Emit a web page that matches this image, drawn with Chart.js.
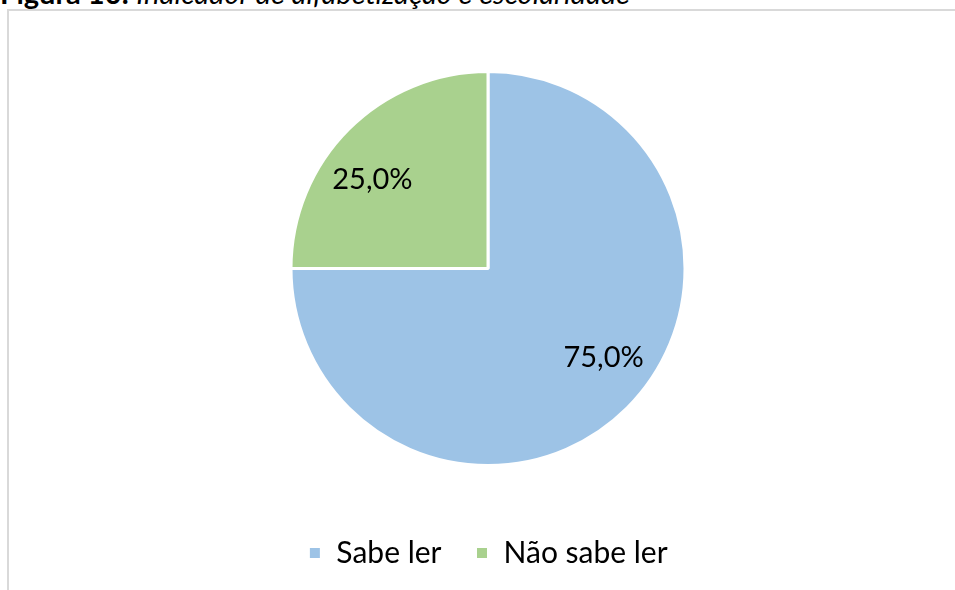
<!DOCTYPE html>
<html><head><meta charset="utf-8">
<script src="https://cdn.jsdelivr.net/npm/chart.js@4/dist/chart.umd.min.js"></script>
<style>
html,body{margin:0;padding:0;background:#fff;width:955px;height:590px;overflow:hidden;}
#title{position:absolute;left:0;top:-24px;font-family:Lato,"Open Sans",sans-serif;font-size:29px;line-height:34px;color:#000;white-space:nowrap;}
#frame{position:absolute;left:7px;top:9px;width:960px;height:700px;border:2px solid #d9d9d9;box-sizing:border-box;}
#wrap{position:absolute;left:0;top:0;width:955px;height:590px;}
</style></head><body>
<div id="title"><b>Figura 10:</b> <i>Indicador de alfabetização e escolaridade</i></div>
<div id="frame"></div>
<div id="wrap"><canvas id="c" width="955" height="590"></canvas></div>
<script>
const categories = ["Sabe ler", "Não sabe ler"];
const values = [75.0, 25.0];
const colors = ["#9DC3E6", "#A9D18E"];

const labelPlugin = {
  id: 'sliceLabels',
  afterDatasetsDraw(chart) {
    const ctx = chart.ctx;
    const meta = chart.getDatasetMeta(0);
    const total = values.reduce((a, b) => a + b, 0);
    ctx.save();
    ctx.font = '29px Lato, "Open Sans", sans-serif';
    ctx.fillStyle = '#000';
    ctx.textAlign = 'center';
    ctx.textBaseline = 'middle';
    meta.data.forEach((arc, i) => {
      const p = arc.getProps(['x','y','startAngle','endAngle','outerRadius'], true);
      const mid = (p.startAngle + p.endAngle) / 2 - 0.13;
      const r = p.outerRadius * 0.74;
      const txt = (values[i] / total * 100).toFixed(1).replace('.', ',') + '%';
      ctx.fillText(txt, p.x + Math.cos(mid) * r, p.y + Math.sin(mid) * r);
    });
    ctx.restore();
  }
};

new Chart(document.getElementById('c'), {
  type: 'pie',
  data: {
    labels: categories,
    datasets: [{ data: values, backgroundColor: colors, borderColor: '#ffffff', borderWidth: 3 }]
  },
  options: {
    responsive: false,
    animation: false,
    layout: { padding: { left: 100, right: 79, top: 70, bottom: 12 } },
    plugins: {
      tooltip: { enabled: false },
      legend: {
        position: 'bottom',
        title: { display: true, text: ' ', font: { size: 1, lineHeight: 1 }, padding: { top: 36, bottom: 0 } },
        labels: {
          boxWidth: 13, boxHeight: 13, padding: 34,
          color: '#000',
          font: { family: 'Lato, "Open Sans", sans-serif', size: 30 }
        }
      }
    }
  },
  plugins: [labelPlugin]
});
</script>
</body></html>
